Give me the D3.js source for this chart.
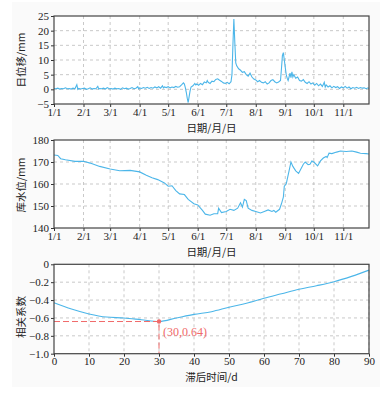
<!DOCTYPE html>
<html>
<head>
<meta charset="utf-8">
<script src="https://cdn.jsdelivr.net/npm/d3@7"></script>
<style>
  body { margin: 0; background: #fff; }
  svg { display: block; }
  .lbl { font-family: "Noto Sans CJK SC", sans-serif; font-size: 10.5px; fill: #222; }
</style>
</head>
<body>
<div id="chart"></div>
<script>
// daily displacement (mm), day offset from Jan 1
const dispDays = [0,2,4,6,8,10,12,14,16,18,20,22,24,25,26,28,30,32,34,36,38,40,42,44,46,47,48,50,52,54,56,58,60,62,64,66,68,70,72,74,76,78,80,82,84,86,88,89,90,92,94,96,98,100,102,104,106,108,110,112,114,115,116,118,120,122,124,126,128,130,132,134,136,137,138,139,140,141,142,143,144,146,148,149,150,152,154,156,158,160,161,162,164,166,168,170,172,174,176,178,180,182,184,186,187,188,189,190,191,192,194,196,198,200,202,204,206,208,210,212,214,216,218,220,222,224,226,228,230,232,234,236,238,239,240,241,242,243,244,245,246,247,248,249,250,251,252,254,256,258,260,262,264,266,268,270,272,274,276,278,280,282,284,285,286,288,290,292,294,296,298,300,302,304,306,308,310,312,314,316,318,320,322,324,326,328,330,331];
const dispValues = [0.3,0.2,0.4,0.1,0.3,0.2,0.5,0.2,0.3,0.1,0.4,0.2,1.6,0.0,0.3,0.1,0.3,0.4,0.0,0.2,0.5,0.1,0.3,0.2,1.0,0.1,0.3,0.2,0.4,0.1,0.6,0.2,0.3,0.1,0.4,0.2,0.3,0.0,0.5,0.2,0.4,0.1,0.3,0.6,0.2,0.4,0.9,0.2,0.5,0.3,0.6,0.4,0.7,0.3,0.6,0.4,0.8,0.5,0.9,0.4,1.2,0.5,0.8,0.6,0.9,0.5,0.8,0.6,1.0,0.7,0.9,1.5,2.2,1.8,0.6,-1.0,-3.0,-4.5,-2.5,-0.5,0.8,1.2,2.0,1.5,1.8,1.4,2.0,1.6,2.5,2.2,3.0,2.4,2.0,2.8,2.6,3.4,3.6,3.1,2.7,2.2,2.0,2.4,1.9,2.6,5.0,15.0,24.0,16.0,9.0,8.0,7.0,6.5,5.8,6.0,5.0,4.5,5.5,4.2,3.5,3.2,2.6,3.0,2.4,2.2,2.6,1.8,2.2,3.0,3.3,2.6,2.2,2.5,3.0,7.0,11.5,12.5,10.0,7.5,5.0,3.8,3.0,4.2,5.5,4.0,6.0,4.2,5.0,3.8,4.2,3.0,2.8,3.3,2.4,2.0,2.6,1.8,2.2,1.4,2.0,1.2,1.8,1.0,2.4,0.8,1.5,0.8,1.2,0.5,1.0,0.6,0.9,0.3,0.8,0.5,1.0,0.4,0.8,0.2,0.6,0.4,0.7,0.3,0.6,0.4,0.5,0.2,0.5,0.3];

// reservoir level, day offset from Jan 1
const levelDays = [0,4,7,12,22,31,38,48,59,69,80,90,97,103,109,116,120,124,128,132,137,141,147,151,156,159,164,168,172,173,176,181,185,189,193,196,198,200,202,204,208,212,217,221,225,229,231,233,237,239,241,242,244,245,247,249,251,254,257,259,262,264,267,269,271,273,277,280,283,286,287,289,292,297,301,307,313,318,322,328,331];
const levelValues = [173.2,173,171.5,171,170.3,170.3,169.5,168,166.8,166,166.2,165.5,164,162.8,162,160.5,159,159.2,157,155.5,155.2,153,151,150.5,148,146.3,145.8,146.5,146.5,149,147,147.5,148.5,148,149,151.5,149.5,153,152.5,149,148,147.5,146.8,147.5,148.2,147.5,148,147.2,148.5,151,154,159,160,162,166,170,168,166,164.8,166.5,169,170,168.8,169,170.5,170,168.2,170.5,171.8,172.5,172,174,173.8,174.5,175,174.8,175,174.5,174,173.8,173.6];

// lag correlation
const lagDays = [0,5,10,15,20,25,30,35,40,45,50,55,60,65,70,75,80,85,90];
const corrValues = [-0.43,-0.50,-0.555,-0.59,-0.60,-0.62,-0.64,-0.60,-0.56,-0.53,-0.48,-0.435,-0.38,-0.33,-0.28,-0.24,-0.195,-0.135,-0.065];

const monthTicks = ["1/1","2/1","3/1","4/1","5/1","6/1","7/1","8/1","9/1","10/1","11/1"];
const dispTicks = [-5,0,5,10,15,20,25];
const levelTicks = [140,150,160,170,180];
const corrTicks = [0,-0.2,-0.4,-0.6,-0.8,-1.0];
const lagTicks = [0,10,20,30,40,50,60,70,80,90];
const peak = {lag: 30, r: -0.64, label: "(30,0.64)"};

const W = 388, H = 393, left = 54, right = 369;
const blue = "#4cb6e9", red = "#f06a6a";
const serif = "'Liberation Serif', 'DejaVu Serif', serif";

const svg = d3.select("#chart").append("svg").attr("width", W).attr("height", H);
svg.append("rect").attr("x", 12).attr("y", 2).attr("width", 368).attr("height", 385).attr("fill", "#fafafa");

const parse = d3.timeParse("%m/%d");
const t0 = parse("1/1");
const dayDate = d => d3.timeDay.offset(t0, d);
const xTime = d3.scaleTime().domain([t0, dayDate(331)]).range([left, right]);
const monthDates = monthTicks.map(parse);

function panel(top, bottom, y, yTicks, yFmt, x, xTicks, xFmt, yLabel, xLabel, labelY, yLabelY) {
  const g = svg.append("g");
  g.append("rect").attr("x", left).attr("y", top).attr("width", right - left).attr("height", bottom - top).attr("fill", "#fff");
  // grid
  g.selectAll(".gx").data(xTicks.slice(1)).enter().append("line")
    .attr("x1", d => x(d)).attr("x2", d => x(d)).attr("y1", top).attr("y2", bottom)
    .attr("stroke", "#bbb").attr("stroke-dasharray", "3,3").attr("stroke-width", 0.8);
  g.selectAll(".gy").data(yTicks.filter(d => y(d) > top + 1 && y(d) < bottom - 1)).enter().append("line")
    .attr("x1", left).attr("x2", right).attr("y1", d => y(d)).attr("y2", d => y(d))
    .attr("stroke", "#bbb").attr("stroke-dasharray", "3,3").attr("stroke-width", 0.8);
  const ax = g.append("g").attr("transform", `translate(0,${bottom})`)
    .call(d3.axisBottom(x).tickValues(xTicks).tickFormat(xFmt).tickSize(3).tickPadding(1));
  const ay = g.append("g").attr("transform", `translate(${left},0)`)
    .call(d3.axisLeft(y).tickValues(yTicks).tickFormat(yFmt).tickSize(3).tickPadding(2));
  [ax, ay].forEach(a => {
    a.attr("font-family", serif).attr("font-size", 11);
    a.select(".domain").remove();
    a.selectAll("line").attr("stroke", "#333");
    a.selectAll("text").attr("fill", "#222");
  });
  g.append("text").attr("class", "lbl").attr("x", (left + right) / 2).attr("y", labelY)
    .attr("text-anchor", "middle").text(xLabel);
  g.append("text").attr("class", "lbl").attr("transform", `translate(25,${yLabelY}) rotate(-90)`)
    .attr("text-anchor", "middle").text(yLabel);
  return g;
}

function frame(top, bottom) {
  svg.append("rect").attr("x", left).attr("y", top).attr("width", right - left).attr("height", bottom - top)
    .attr("fill", "none").attr("stroke", "#444").attr("stroke-width", 1.2);
}

const mFmt = d3.timeFormat("%-m/%-d");

// panel 1
const y1 = d3.scaleLinear().domain([-5, 25]).range([104, 16]);
panel(16, 104, y1, dispTicks, d3.format("d"), xTime, monthDates, mFmt, "日位移/mm", "日期/月/日", 132, 60);
svg.append("path").datum(dispDays.map((d, i) => [dayDate(d), dispValues[i]]))
  .attr("fill", "none").attr("stroke", blue).attr("stroke-width", 1.1)
  .attr("d", d3.line().x(d => xTime(d[0])).y(d => y1(d[1])));
frame(16, 104);

// panel 2
const y2 = d3.scaleLinear().domain([140, 180]).range([228, 140]);
panel(140, 228, y2, levelTicks, d3.format("d"), xTime, monthDates, mFmt, "库水位/mm", "日期/月/日", 256, 185);
svg.append("path").datum(levelDays.map((d, i) => [dayDate(d), levelValues[i]]))
  .attr("fill", "none").attr("stroke", blue).attr("stroke-width", 1.1)
  .attr("d", d3.line().x(d => xTime(d[0])).y(d => y2(d[1])));
frame(140, 228);

// panel 3
const x3 = d3.scaleLinear().domain([0, 90]).range([left, right]);
const y3 = d3.scaleLinear().domain([-1, 0]).range([353.7, 264.3]);
panel(264.3, 353.7, y3, corrTicks, d => d === 0 ? "0" : d3.format(".1f")(d), x3, lagTicks, d3.format("d"), "相关系数", "滞后时间/d", 381, 317);
svg.append("path").datum(lagDays.map((d, i) => [d, corrValues[i]]))
  .attr("fill", "none").attr("stroke", blue).attr("stroke-width", 1.1)
  .attr("d", d3.line().curve(d3.curveMonotoneX).x(d => x3(d[0])).y(d => y3(d[1])));
svg.append("path")
  .attr("d", `M${x3(0)},${y3(peak.r)}H${x3(peak.lag)}V${y3(-1)}`)
  .attr("fill", "none").attr("stroke", red).attr("stroke-width", 1).attr("stroke-dasharray", "6,3");
svg.append("circle").attr("cx", x3(peak.lag)).attr("cy", y3(peak.r)).attr("r", 2.2).attr("fill", red);
svg.append("text").attr("x", x3(peak.lag) + 4).attr("y", y3(peak.r) + 14)
  .attr("font-family", serif).attr("font-size", 12).attr("fill", red).text(peak.label);
frame(264.3, 353.7);
</script>
</body>
</html>
